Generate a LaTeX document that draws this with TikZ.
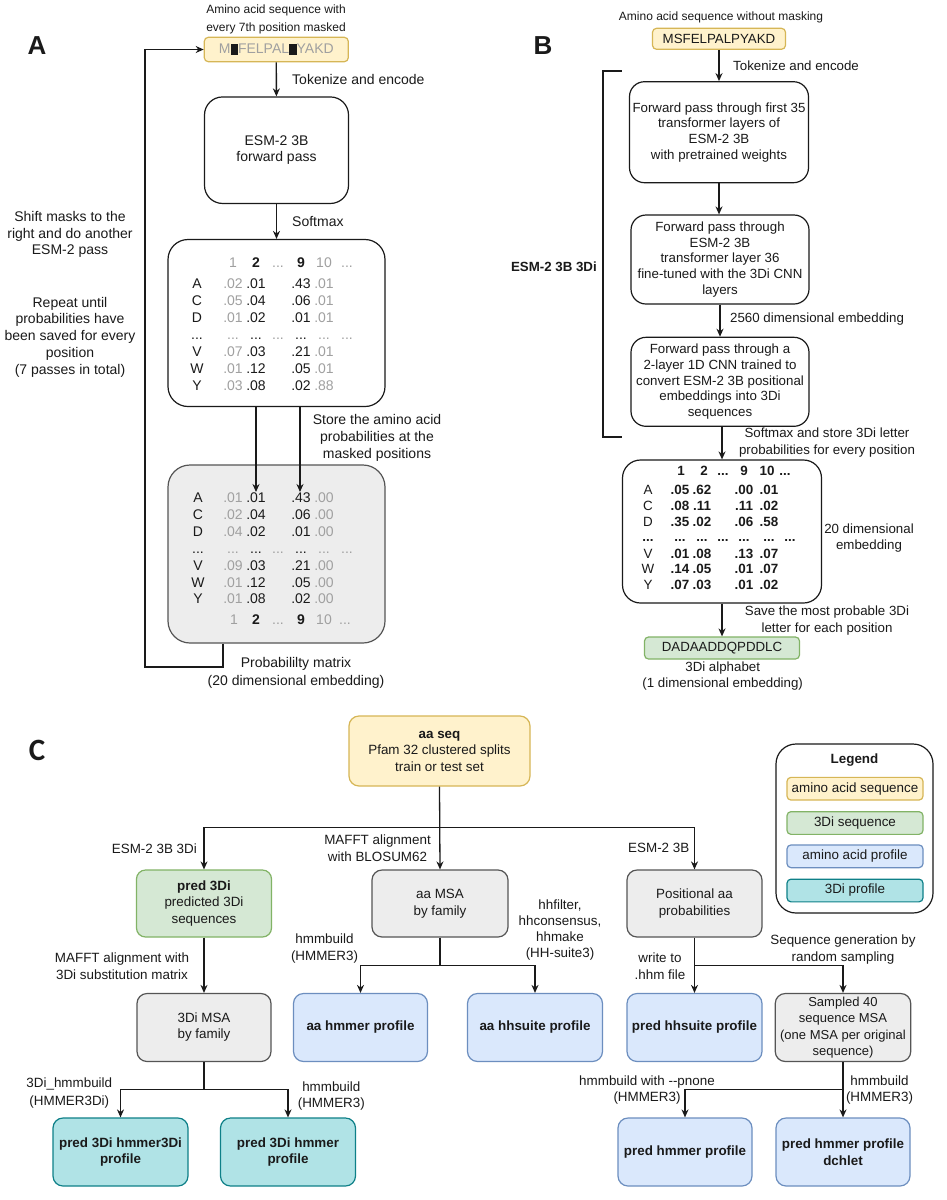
\documentclass[tikz,border=0pt]{standalone}
\usepackage{fontspec}
\setmainfont{Liberation Sans}
\newfontfamily\carl{Carlito}
\usetikzlibrary{arrows.meta}
\definecolor{yelF}{HTML}{FFF2CC}
\definecolor{yelD}{HTML}{D6B656}
\definecolor{grnF}{HTML}{D5E8D4}
\definecolor{grnD}{HTML}{82B366}
\definecolor{bluF}{HTML}{DAE8FC}
\definecolor{bluD}{HTML}{6C8EBF}
\definecolor{tealF}{HTML}{B0E3E6}
\definecolor{tealD}{HTML}{0E8088}
\definecolor{gryF}{HTML}{EDEDED}
\definecolor{gryD}{HTML}{555555}
\definecolor{txt}{HTML}{1A1A1A}
\definecolor{lgt}{HTML}{A0A0A0}
\newcommand\fsz[2]{\fontsize{#1}{#2}\selectfont}
\newcommand\ddd{...}
\begin{document}
\begin{tikzpicture}[x=1pt,y=-1pt,
  every node/.style={text=txt},
  lab/.style={inner sep=0pt, align=center, font=\fsz{14}{16.7}},
  labb/.style={inner sep=0pt, align=center, font=\fsz{13.3}{16.7}},
  labc/.style={inner sep=0pt, align=center, font=\fsz{13.4}{16.7}},
  arr/.style={-{Stealth[length=8pt,width=7pt]}, line width=1.3pt, draw=txt},
  ln/.style={line width=1.3pt, draw=txt},
  bx/.style={inner sep=0pt, align=center, line width=1.2pt, font=\fsz{13.4}{16.7}},
  sz/.style 2 args={minimum width=#1pt, minimum height=#2pt},
  whb/.style={bx, draw=txt, fill=white},
  yel/.style={bx, draw=yelD, fill=yelF, rounded corners=4pt},
  grn/.style={bx, draw=grnD, fill=grnF, rounded corners=9pt},
  blu/.style={bx, draw=bluD, fill=bluF, rounded corners=10pt},
  tea/.style={bx, draw=tealD, fill=tealF, rounded corners=10pt},
  gry/.style={bx, draw=gryD, fill=gryF, rounded corners=10pt},
  mt/.style={anchor=base, inner sep=0pt, font=\fsz{14}{16}},
  mb/.style={anchor=base, inner sep=0pt, font=\fsz{13.4}{16}\bfseries},
  lg/.style={text=lgt},
  panel/.style={inner sep=0pt, font=\fsz{26}{26}\bfseries},
]
\useasboundingbox[fill=white] (0,0) rectangle (946,1200);

% ================= Panel A =================
\node[panel] (pA) at (37,46) {A};
\node[lab, font=\fsz{12}{17.3}] (capA) at (276,19.5) {Amino acid sequence with\\every 7th position masked};
\node[yel, sz={144}{24.4}, font=\fsz{14}{16}] (seqA) at (276.3,49.5)
  {\textcolor{lgt}{M}\rule[-1.5pt]{7.5pt}{11.5pt}\textcolor{lgt}{FELPAL}\rule[-1.5pt]{7.5pt}{11.5pt}\textcolor{lgt}{YAKD}};
\node[whb, rounded corners=18pt, sz={144}{106.5}, font=\fsz{14}{16.6}] (esm) at (276.5,150.2) {ESM-2 3B\\forward pass};
\draw[arr] (seqA) -- (esm);
\node[lab, anchor=west] (tokA) at (292,79) {Tokenize and encode};
\node[whb, rounded corners=20pt, sz={217}{167}] (matU) at (276.5,323) {};
\draw[arr] (esm) -- (matU);
\node[lab, anchor=west] (smx) at (292,221.7) {Softmax};

% upper matrix
\node[mt,lg] (hu1) at (233,267) {1};
\node[mt] (hu2) at (256,267) {\textbf{2}};
\node[mt,lg] (hu3) at (278,267) {\ddd};
\node[mt] (hu4) at (301,267) {\textbf{9}};
\node[mt,lg] (hu5) at (324,267) {10};
\node[mt,lg] (hu6) at (347,267) {\ddd};
\foreach \l/\yb/\va/\vb/\vc/\vd [count=\i] in {A/288/.02/.01/.43/.01, C/305/.05/.04/.06/.01, D/322/.01/.02/.01/.01, V/356/.07/.03/.21/.01, W/373/.01/.12/.05/.01, Y/390/.03/.08/.02/.88}{
  \node[mt] (mul\i) at (197,\yb) {\l};
  \node[mt,lg] (mua\i) at (233,\yb) {\va};
  \node[mt] (mub\i) at (256,\yb) {\vb};
  \node[mt] (muc\i) at (301,\yb) {\vc};
  \node[mt,lg] (mud\i) at (324,\yb) {\vd};
}
\foreach \x/\c [count=\i] in {197/txt,233/lgt,256/txt,278/lgt,301/txt,324/lgt,347/lgt}
  \node[mt, text=\c] (mudot\i) at (\x,339) {\ddd};

% lower matrix
\node[gry, rounded corners=22pt, sz={217}{178}] (matL) at (276.5,554) {};
\foreach \l/\yb/\va/\vb/\vc/\vd [count=\i] in {A/502/.01/.01/.43/.00, C/519/.02/.04/.06/.00, D/536/.04/.02/.01/.00, V/570/.09/.03/.21/.00, W/587/.01/.12/.05/.00, Y/603/.01/.08/.02/.00}{
  \node[mt] (mll\i) at (198,\yb) {\l};
  \node[mt,lg] (mla\i) at (233,\yb) {\va};
  \node[mt] (mlb\i) at (256,\yb) {\vb};
  \node[mt] (mlc\i) at (301,\yb) {\vc};
  \node[mt,lg] (mld\i) at (324,\yb) {\vd};
}
\foreach \x/\c [count=\i] in {198/txt,233/lgt,256/txt,278/lgt,301/txt,324/lgt,347/lgt}
  \node[mt, text=\c] (mldot\i) at (\x,553) {\ddd};
\node[mt,lg] (fl1) at (234,624) {1};
\node[mt] (fl2) at (256,624) {\textbf{2}};
\node[mt,lg] (fl3) at (278,624) {\ddd};
\node[mt] (fl4) at (301,624) {\textbf{9}};
\node[mt,lg] (fl5) at (324,624) {10};
\node[mt,lg] (fl6) at (345,624) {\ddd};

\coordinate (t2) at (256,492);
\coordinate (t9) at (300,492);
\draw[arr] (matU.south -| t2) -- (t2);
\draw[arr] (matU.south -| t9) -- (t9);
\node[lab, font=\fsz{14}{17}] (store) at (377,438) {Store the amino acid\\probabilities at the\\masked positions};

\coordinate (lp) at (223,667);
\coordinate (lc) at (145,300);
\draw[arr] (matL.south -| lp) -- (lp) -| (lc) |- (seqA.west);
\node[lab, font=\fsz{14}{18.5}] (pm) at (296,673) {Probabililty matrix\\(20 dimensional embedding)};
\node[lab] (shift) at (70,234.5) {Shift masks to the\\right and do another\\ESM-2 pass};
\node[lab] (rep) at (70,337) {Repeat until\\probabilities have\\been saved for every\\position\\(7 passes in total)};

% ================= Panel B =================
\node[panel] (pB) at (543,46) {B};
\node[lab, font=\fsz{12}{15}] (capB) at (721,17.3) {Amino acid sequence without masking};
\node[yel, sz={133}{21}, font=\fsz{13.3}{16}] (seqB) at (719,38.8) {MSFELPALPYAKD};
\node[whb, rounded corners=15pt, sz={179}{101}, font=\fsz{13.3}{15.7}] (b1) at (719,132.2)
  {Forward pass through first 35\\transformer layers of\\ESM-2 3B\\with pretrained weights};
\node[whb, rounded corners=15pt, sz={178}{89}, font=\fsz{13.3}{15.85}] (b2) at (720,259.5)
  {Forward pass through\\ESM-2 3B\\transformer layer 36\\fine-tuned with the 3Di CNN\\layers};
\node[whb, rounded corners=15pt, sz={178}{89}, font=\fsz{13.3}{15.65}] (b3) at (720,381.8)
  {Forward pass through a\\2-layer 1D CNN trained to\\convert ESM-2 3B positional\\embeddings into 3Di\\sequences};
\node[whb, rounded corners=18pt, sz={199}{143}] (mB) at (722,531.5) {};
\node[grn, rounded corners=4pt, sz={155}{22}, font=\fsz{13.3}{16}] (g3di) at (722,648) {DADAADDQPDDLC};

\draw[arr] (seqB.south -| b1.north) -- (b1.north);
\draw[arr] (b1.south) -- (b1.south |- b2.north);
\draw[arr] (b2.south) -- (b3.north);
\draw[arr] (b3.south -| mB.north) -- (mB.north);
\draw[arr] (mB.south) -- (g3di.north);

\node[labb, anchor=west] (tokB) at (733,66) {Tokenize and encode};
\node[labb, anchor=west] (dim2560) at (730,319) {2560 dimensional embedding};
\node[labb] (smxB) at (827,442.3) {Softmax and store 3Di letter\\probabilities for every position};
\node[labb, font=\fsz{13.3}{16}] (dim20) at (869,538) {20 dimensional\\embedding};
\node[labb] (save) at (827,620.7) {Save the most probable 3Di\\letter for each position};
\node[labb, font=\fsz{13.3}{16.6}] (alph) at (722.7,676) {3Di alphabet\\(1 dimensional embedding)};

\coordinate (brT) at (621.7,71);
\coordinate (brB) at (621.7,437);
\draw[ln] (brT) -- (603,71) -- (603,437) -- (brB);
\node[labb, anchor=east, font=\fsz{13.3}{16}\bfseries] (esm3di) at (597,267) {ESM-2 3B 3Di};

% matrix B
\node[mb] (hb1) at (681,475.5) {1};
\node[mb] (hb2) at (704,475.5) {2};
\node[mb] (hb3) at (723,475.5) {\ddd};
\node[mb] (hb4) at (744,475.5) {9};
\node[mb] (hb5) at (767,475.5) {10};
\node[mb] (hb6) at (785,475.5) {\ddd};
\foreach \l/\yb/\va/\vb/\vc/\vd [count=\i] in {A/494/.05/.62/.00/.01, C/510.5/.08/.11/.11/.02, D/526/.35/.02/.06/.58, V/558/.01/.08/.13/.07, W/573.5/.14/.05/.01/.07, Y/589/.07/.03/.01/.02}{
  \node[mb, font=\fsz{13.4}{16}] (mbl\i) at (648,\yb) {\l};
  \node[mb] (mba\i) at (680,\yb) {\va};
  \node[mb] (mbb\i) at (702,\yb) {\vb};
  \node[mb] (mbc\i) at (744,\yb) {\vc};
  \node[mb] (mbd\i) at (769,\yb) {\vd};
}
\foreach \x [count=\i] in {648,680,702,723,744,769,790}
  \node[mb] (mbdot\i) at (\x,541) {\ddd};

% ================= Panel C =================
\node[panel, font=\fsz{31}{31}\carl\bfseries] (pC) at (37,750) {C};
\node[yel, rounded corners=10pt, sz={181}{70}, font=\fsz{13.4}{16.5}] (aaseq) at (439.5,751)
  {\textbf{aa seq}\\Pfam 32 clustered splits\\train or test set};

\node[bx, draw=txt, fill=white, rounded corners=20pt, sz={157}{169}] (leg) at (854.5,828.5) {};
\node[labc, font=\fsz{13.4}{16}\bfseries] (legt) at (854.5,760) {Legend};
\node[yel, sz={136}{22.7}] (leg1) at (855,788.7) {amino acid sequence};
\node[grn, rounded corners=4pt, sz={136}{22.7}] (leg2) at (855,823) {3Di sequence};
\node[blu, rounded corners=4pt, sz={136}{22.7}] (leg3) at (855,856.3) {amino acid profile};
\node[tea, rounded corners=4pt, sz={136}{22.7}] (leg4) at (855,890.5) {3Di profile};

% row 1
\node[grn, sz={135}{67}] (pred3di) at (204,903.5) {\textbf{pred 3Di}\\predicted 3Di\\sequences};
\node[gry, sz={136}{67}] (aamsa) at (440,903.5) {aa MSA\\by family};
\node[gry, sz={135}{67}] (posaa) at (694.5,903.5) {Positional aa\\probabilities};
% row 2
\node[gry, sz={134}{68}, font=\fsz{13.4}{16}] (dimsa) at (204,1027.5) {3Di MSA\\by family};
\node[blu, sz={134}{68}] (aahmm) at (360.5,1027.5) {\textbf{aa hmmer profile}};
\node[blu, sz={135}{68}] (aahhs) at (535,1027.5) {\textbf{aa hhsuite profile}};
\node[blu, sz={135}{68}] (prhhs) at (694.5,1027.5) {\textbf{pred hhsuite profile}};
\node[gry, sz={135.5}{68}, font=\fsz{13}{16.5}] (samp) at (843,1027.5) {Sampled 40\\sequence MSA\\(one MSA per original\\sequence)};
% row 3
\node[tea, sz={135}{68}] (p3h3) at (120.5,1152) {\textbf{pred 3Di hmmer3Di}\\\textbf{profile}};
\node[tea, sz={135}{68}] (p3h) at (288,1152) {\textbf{pred 3Di hmmer}\\\textbf{profile}};
\node[blu, sz={134}{68}] (prh) at (685,1152) {\textbf{pred hmmer profile}};
\node[blu, sz={134}{68}] (prhd) at (843,1152) {\textbf{pred hmmer profile}\\\textbf{dchlet}};

% connectors C
\coordinate (hC) at (440,827.7);
\draw[arr] (aaseq.south) -- (aamsa.north);
\draw[arr] (hC) -| (pred3di.north);
\draw[arr] (hC) -| (posaa.north);
\draw[arr] (pred3di.south) -- (dimsa.north);
\coordinate (hM) at (440,965.7);
\draw[ln] (aamsa.south) -- (hM);
\draw[arr] (hM) -| (aahmm.north);
\draw[arr] (hM) -| (aahhs.north);
\coordinate (hP) at (694.5,965.7);
\draw[arr] (posaa.south) -- (prhhs.north);
\draw[arr] (hP) -| (samp.north);
\coordinate (hD) at (204,1089.3);
\draw[ln] (dimsa.south) -- (hD);
\draw[arr] (hD) -| (p3h3.north);
\draw[arr] (hD) -| (p3h.north);
\coordinate (hS) at (843,1089.3);
\draw[arr] (samp.south) -- (prhd.north);
\draw[arr] (hS) -| (prh.north);

% labels C
\node[labc, anchor=east] (lesm3di) at (197,849) {ESM-2 3B 3Di};
\node[labc] (lmafft) at (377.5,848.5) {MAFFT alignment\\with BLOSUM62};
\node[labc, anchor=east] (lesm) at (689.5,848) {ESM-2 3B};
\node[labc, font=\fsz{13.4}{17}] (lmafft3) at (122,966) {MAFFT alignment with\\3Di substitution matrix};
\node[labc, font=\fsz{13.4}{17.3}] (lhmm1) at (324.5,948.6) {hmmbuild\\(HMMER3)};
\node[labc, font=\fsz{13.4}{16.1}] (lhh) at (560,930) {hhfilter,\\hhconsensus,\\hhmake\\(HH-suite3)};
\node[labc] (lwrite) at (660,966) {write to\\.hhm file};
\node[labc, font=\fsz{13.4}{17}] (lseq) at (843,949.2) {Sequence generation by\\random sampling};
\node[labc, font=\fsz{13.4}{17.4}] (l3dh) at (69.3,1093) {3Di\_hmmbuild\\(HMMER3Di)};
\node[labc] (lhmm2) at (331.3,1096) {hmmbuild\\(HMMER3)};
\node[labc] (lpn) at (647,1090) {hmmbuild with -{}-pnone\\(HMMER3)};
\node[labc] (lhmm3) at (879.5,1090) {hmmbuild\\(HMMER3)};
\end{tikzpicture}
\end{document}
